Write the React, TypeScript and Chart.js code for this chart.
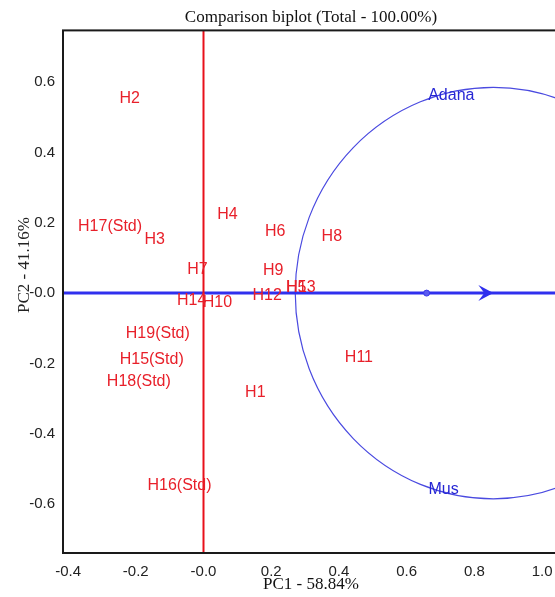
import React, { useEffect, useRef } from 'react';
import { Chart, registerables } from 'chart.js';

Chart.register(...registerables);

// ---- data ----
const genotypeNames = [
  'H1', 'H2', 'H3', 'H4', 'H5', 'H6', 'H7', 'H8', 'H9', 'H10',
  'H11', 'H12', 'H13', 'H14', 'H15(Std)', 'H16(Std)', 'H17(Std)', 'H18(Std)', 'H19(Std)',
];
const genotypePC1 = [
  0.153, -0.218, -0.144, 0.071, 0.274, 0.212, -0.018, 0.379, 0.206, 0.041,
  0.459, 0.188, 0.288, -0.035, -0.153, -0.071, -0.276, -0.191, -0.135,
];
const genotypePC2 = [
  -0.284, 0.554, 0.153, 0.224, 0.017, 0.176, 0.068, 0.162, 0.065, -0.026,
  -0.182, -0.006, 0.017, -0.020, -0.190, -0.548, 0.188, -0.253, -0.114,
];
const envNames = ['Adana', 'Mus'];
const envPC1 = [0.732, 0.709];
const envPC2 = [0.563, -0.56];

const xTickValues = [-0.4, -0.2, 0, 0.2, 0.4, 0.6, 0.8, 1.0];
const yTickValues = [-0.6, -0.4, -0.2, 0, 0.2, 0.4, 0.6];

const X_MIN = -0.415;
const X_MAX = 1.05;
const Y_MIN = -0.739;
const Y_MAX = 0.747;

const meanEnvPC1 = 0.659; // small dot on the AEA line
const idealPC1 = 0.856; // arrow tip / circle centre
const circleRadius = 0.585;

const titleText = 'Comparison biplot (Total - 100.00%)';
const xTitle = 'PC1 - 58.84%';
const yTitle = 'PC2 - 41.16%';

const RED = '#e8202a';
const BLUE = '#3030ee';
const SERIF = "'Liberation Serif', 'Times New Roman', serif";
const SANS = "'Liberation Sans', Arial, sans-serif";

const fmt = (v: number) => (Math.abs(v) < 1e-9 ? '-0.0' : v.toFixed(1));

const biplotPlugin = {
  id: 'biplotExtras',
  beforeDatasetsDraw(chart: any) {
    const { ctx, chartArea, scales } = chart;
    const x = scales.x;
    const y = scales.y;
    const cx = x.getPixelForValue(idealPC1);
    const cy = y.getPixelForValue(0);
    const rx = Math.abs(x.getPixelForValue(idealPC1 + circleRadius) - cx);
    const ry = Math.abs(y.getPixelForValue(circleRadius) - cy);
    ctx.save();
    ctx.beginPath();
    ctx.rect(chartArea.left, chartArea.top, chartArea.right - chartArea.left, chartArea.bottom - chartArea.top);
    ctx.clip();
    ctx.beginPath();
    ctx.ellipse(cx, cy, rx, ry, 0, 0, Math.PI * 2);
    ctx.strokeStyle = '#4a4ae0';
    ctx.lineWidth = 1.2;
    ctx.stroke();
    ctx.restore();
  },
  afterDatasetsDraw(chart: any) {
    const { ctx, scales } = chart;
    // arrow head at the ideal point
    const tx = scales.x.getPixelForValue(idealPC1);
    const ty = scales.y.getPixelForValue(0);
    ctx.save();
    ctx.fillStyle = BLUE;
    ctx.beginPath();
    ctx.moveTo(tx, ty);
    ctx.lineTo(tx - 15, ty - 8);
    ctx.lineTo(tx - 9, ty);
    ctx.lineTo(tx - 15, ty + 8);
    ctx.closePath();
    ctx.fill();
    ctx.restore();

    // text labels
    chart.data.datasets.forEach((ds: any, i: number) => {
      if (!ds.names) return;
      const meta = chart.getDatasetMeta(i);
      ctx.save();
      ctx.font = `16px ${SANS}`;
      ctx.fillStyle = ds.textColor;
      ctx.textAlign = 'center';
      ctx.textBaseline = 'middle';
      meta.data.forEach((el: any, j: number) => {
        ctx.fillText(ds.names[j], el.x, el.y);
      });
      ctx.restore();
    });
  },
  afterDraw(chart: any) {
    const { ctx, chartArea } = chart;
    ctx.save();
    ctx.strokeStyle = '#1a1a1a';
    ctx.lineWidth = 2;
    ctx.strokeRect(chartArea.left, chartArea.top, chartArea.right - chartArea.left, chartArea.bottom - chartArea.top);
    // y axis title
    ctx.translate(25, 265);
    ctx.rotate(-Math.PI / 2);
    ctx.font = `17px ${SERIF}`;
    ctx.fillStyle = '#222';
    ctx.textAlign = 'center';
    ctx.textBaseline = 'middle';
    ctx.fillText(yTitle, 0, 0);
    ctx.restore();
  },
};

export default function App() {
  const canvasRef = useRef<HTMLCanvasElement | null>(null);

  useEffect(() => {
    if (!canvasRef.current) return;
    const chart = new Chart(canvasRef.current, {
      type: 'scatter',
      data: {
        datasets: [
          {
            type: 'scatter',
            label: 'genotypes',
            data: genotypeNames.map((_, i) => ({ x: genotypePC1[i], y: genotypePC2[i] })),
            pointRadius: 0,
            names: genotypeNames,
            textColor: RED,
          } as any,
          {
            type: 'scatter',
            label: 'environments',
            data: envNames.map((_, i) => ({ x: envPC1[i], y: envPC2[i] })),
            pointRadius: 0,
            names: envNames,
            textColor: '#2626d4',
          } as any,
          {
            type: 'scatter',
            label: 'mean',
            data: [{ x: meanEnvPC1, y: 0 }],
            pointRadius: 3,
            backgroundColor: '#5a5af0',
            borderColor: '#3a3ae8',
            borderWidth: 1,
          },
          {
            type: 'line',
            label: 'ordinate',
            data: [{ x: 0, y: Y_MIN }, { x: 0, y: Y_MAX }],
            borderColor: '#e8101a',
            borderWidth: 2,
            pointRadius: 0,
          },
          {
            type: 'line',
            label: 'AEA',
            data: [{ x: X_MIN, y: 0 }, { x: X_MAX, y: 0 }],
            borderColor: BLUE,
            borderWidth: 3,
            pointRadius: 0,
          },
        ],
      },
      options: {
        animation: false,
        responsive: true,
        maintainAspectRatio: false,
        layout: { padding: { left: 0, right: 3, top: 0, bottom: 0 } },
        plugins: {
          legend: { display: false },
          tooltip: { enabled: false },
          title: {
            display: true,
            text: titleText,
            fullSize: false,
            color: '#111',
            font: { family: SERIF, size: 17, weight: 'normal' },
            padding: { top: 7, bottom: 3 },
          },
        },
        scales: {
          x: {
            type: 'linear',
            min: X_MIN,
            max: X_MAX,
            grid: { display: false, drawTicks: false },
            border: { display: false },
            afterBuildTicks: (s: any) => {
              s.ticks = xTickValues.map((v) => ({ value: v }));
            },
            afterFit: (s: any) => {
              s.height = 44;
            },
            ticks: {
              padding: 10,
              color: '#222',
              font: { family: SANS, size: 15 },
              maxRotation: 0,
              autoSkip: false,
              callback: (v: any) => fmt(Number(v)),
            },
            title: {
              display: true,
              text: xTitle,
              color: '#111',
              font: { family: SERIF, size: 17 },
              padding: { top: 0, bottom: 2 },
            },
          },
          y: {
            type: 'linear',
            min: Y_MIN,
            max: Y_MAX,
            grid: { display: false, drawTicks: false },
            border: { display: false },
            afterBuildTicks: (s: any) => {
              s.ticks = yTickValues.map((v) => ({ value: v }));
            },
            afterFit: (s: any) => {
              s.width = 63;
            },
            ticks: {
              padding: 8,
              color: '#222',
              font: { family: SANS, size: 15 },
              autoSkip: false,
              callback: (v: any) => fmt(Number(v)),
            },
          },
        },
      } as any,
      plugins: [biplotPlugin],
    });
    return () => chart.destroy();
  }, []);

  return (
    <div style={{ position: 'absolute', left: 0, top: 0, width: 555, height: 597, overflow: 'hidden', background: '#fff' }}>
      <div style={{ position: 'relative', width: 564, height: 597 }}>
        <canvas ref={canvasRef} />
      </div>
    </div>
  );
}
